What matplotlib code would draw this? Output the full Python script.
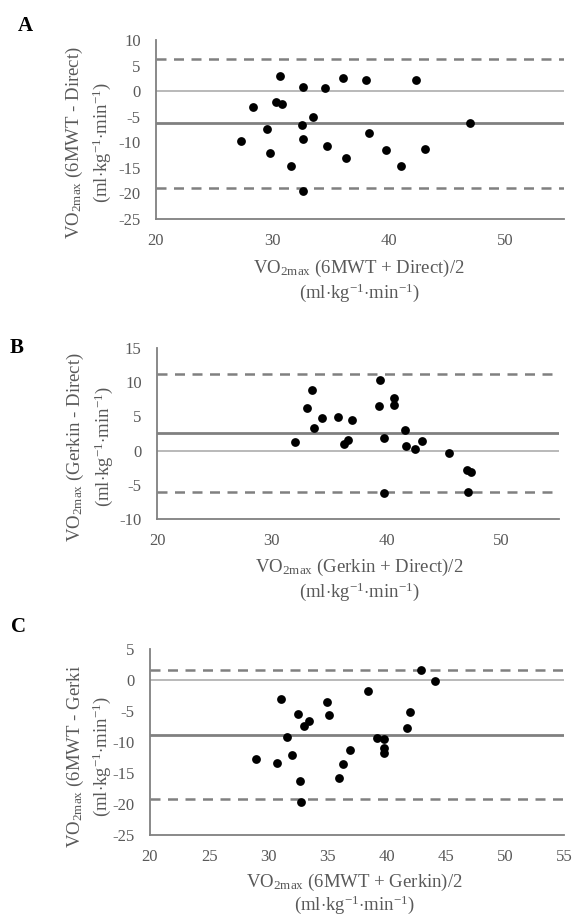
import matplotlib
matplotlib.use('Agg')
import matplotlib.pyplot as plt

plt.rcParams['font.family'] = ['Liberation Serif', 'DejaVu Serif']
plt.rcParams['mathtext.fontset'] = 'custom'
plt.rcParams['mathtext.rm'] = 'Liberation Serif'
plt.rcParams['mathtext.it'] = 'Liberation Serif:italic'

# Panel A: 6MWT vs Direct
a_mean = [27.25, 28.3, 29.5, 29.8, 30.3, 30.6, 30.8, 31.6, 32.5, 32.6, 32.6, 32.6,
          33.5, 34.5, 34.7, 36.0, 36.3, 38.0, 38.3, 39.75, 41.0, 42.3, 43.1, 46.9]
a_diff = [-9.7, -3.1, -7.5, -12.0, -2.1, 2.9, -2.6, -14.6, -6.7, 0.8, -9.4, -19.6,
          -5.1, 0.6, -10.7, 2.5, -13.1, 2.1, -8.1, -11.6, -14.7, 2.1, -11.3, -6.3]
a_bias, a_upper, a_lower = -6.3, 6.3, -18.9

# Panel B: Gerkin vs Direct
b_mean = [32.0, 33.1, 33.5, 33.7, 34.4, 35.75, 36.3, 36.6, 37.0, 39.4, 39.3, 39.8,
          39.8, 40.6, 40.6, 41.6, 41.7, 42.5, 43.1, 45.4, 47.0, 47.3, 47.1]
b_diff = [1.2, 6.3, 8.9, 3.3, 4.7, 4.85, 0.9, 1.6, 4.5, 10.3, 6.5, 1.9,
          -6.2, 7.7, 6.7, 3.0, 0.7, 0.25, 1.4, -0.3, -2.8, -3.2, -6.0]
b_bias, b_upper, b_lower = 2.6, 11.2, -6.0

# Panel C: 6MWT vs Gerkin
c_mean = [28.98, 30.7, 31.05, 31.6, 32.0, 32.5, 32.7, 32.8, 33.0, 33.4, 35.0, 35.1,
          36.0, 36.3, 36.9, 38.45, 39.2, 39.8, 39.75, 39.75, 41.7, 41.95, 42.9, 44.1]
c_diff = [-12.8, -13.4, -3.1, -9.2, -12.1, -5.5, -16.3, -19.6, -7.4, -6.6, -3.5, -5.6,
          -15.8, -13.5, -11.3, -1.8, -9.3, -9.5, -11.0, -11.8, -7.8, -5.1, 1.6, -0.2]
c_bias, c_upper, c_lower = -8.8, 1.6, -19.2

a_yticks = [10, 5, 0, -5, -10, -15, -20, -25]
b_yticks = [15, 10, 5, 0, -5, -10]
c_yticks = [5, 0, -5, -10, -15, -20, -25]
ab_xticks = [20, 30, 40, 50]
c_xticks = [20, 25, 30, 35, 40, 45, 50, 55]

W, H = 576, 915
TXT = '#595959'
GREY = '#808080'
UNIT = r'(ml$\cdot$kg$^{\mathrm{-1}}$$\cdot$min$^{\mathrm{-1}}$)'


def fx(x):
    return x / W


def fy(y):
    return 1 - y / H


def make_panel(fig, box, mean, diff, bias, upper, lower, ylim, yticks, xticks,
               letter, letter_xy, ylab1, ylab_pos, xlab1, xlab_pos):
    left, right, top, bottom = box
    ax = fig.add_axes([fx(left), fy(bottom), fx(right) - fx(left), fy(top) - fy(bottom)])
    ax.set_xlim(20, 55)
    ax.set_ylim(*ylim)
    ax.axhline(0, color='#a6a6a6', lw=1.1, zorder=1)
    ax.axhline(bias, color=GREY, lw=2.0, zorder=1)
    for v in (upper, lower):
        ax.axhline(v, color=GREY, lw=1.8, dashes=(4, 3), zorder=1)
    ax.scatter(mean, diff, s=40, color='black', zorder=3, linewidths=0)
    for s in ('top', 'right'):
        ax.spines[s].set_visible(False)
    for s in ('left', 'bottom'):
        ax.spines[s].set_color(GREY)
        ax.spines[s].set_linewidth(1.3)
    ax.set_yticks(yticks)
    ax.set_yticklabels([str(t) for t in yticks])
    ax.set_xticks(xticks)
    ax.tick_params(length=0, labelsize=12, labelcolor=TXT)
    ax.tick_params(axis='y', pad=11)
    ax.tick_params(axis='x', pad=10)

    fig.text(fx(letter_xy[0]), fy(letter_xy[1]), letter, fontsize=15,
             fontweight='bold', ha='center', va='center', color='black')
    (y1x, y2x, ymid) = ylab_pos
    fig.text(fx(y1x), fy(ymid), ylab1, rotation=90, fontsize=13.5, color=TXT,
             ha='center', va='center')
    fig.text(fx(y2x), fy(ymid), UNIT, rotation=90, fontsize=13.5, color=TXT,
             ha='center', va='center')
    (xmid, x1y, x2y) = xlab_pos
    fig.text(fx(xmid), fy(x1y), xlab1, fontsize=13.5, color=TXT,
             ha='center', va='center')
    fig.text(fx(xmid), fy(x2y), UNIT, fontsize=13.5, color=TXT,
             ha='center', va='center')
    return ax


fig = plt.figure(figsize=(W / 100, H / 100), dpi=100)

make_panel(fig, (156, 564, 40, 219), a_mean, a_diff, a_bias, a_upper, a_lower,
           (-25, 10), a_yticks, ab_xticks, 'A', (25, 26),
           r'VO$_{\mathrm{2max}}$ (6MWT - Direct)', (74, 102, 143),
           r'VO$_{\mathrm{2max}}$ (6MWT + Direct)/2', (359, 268, 293))

make_panel(fig, (157, 559, 348, 519), b_mean, b_diff, b_bias, b_upper, b_lower,
           (-10, 15), b_yticks, ab_xticks, 'B', (17, 348),
           r'VO$_{\mathrm{2max}}$ (Gerkin - Direct)', (75, 104, 447),
           r'VO$_{\mathrm{2max}}$ (Gerkin + Direct)/2', (359, 567, 592))

make_panel(fig, (150, 564, 649, 835), c_mean, c_diff, c_bias, c_upper, c_lower,
           (-25, 5), c_yticks, c_xticks, 'C', (18, 627),
           r'VO$_{\mathrm{2max}}$ (6MWT - Gerki', (75, 102, 757),
           r'VO$_{\mathrm{2max}}$ (6MWT + Gerkin)/2', (354, 882, 905))

fig.savefig('out.png', dpi=100, facecolor='white')
